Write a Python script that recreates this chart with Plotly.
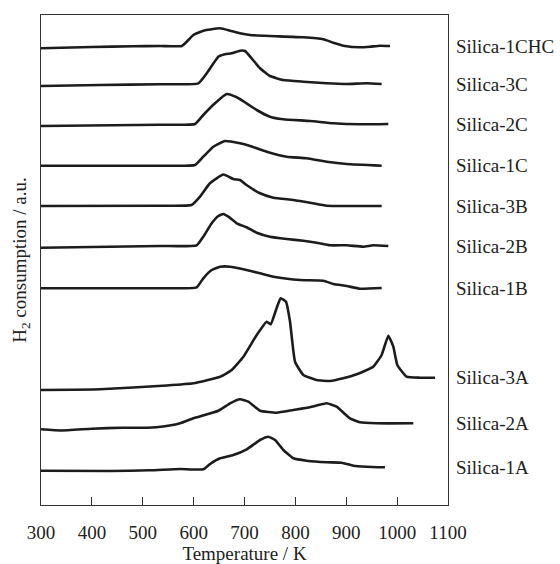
import plotly.graph_objects as go

# Stacked H2-TPR profiles (temperature in K, H2 consumption in offset arbitrary units)
names = ["Silica-1CHC", "Silica-3C", "Silica-2C", "Silica-1C", "Silica-3B",
         "Silica-2B", "Silica-1B", "Silica-3A", "Silica-2A", "Silica-1A"]

t_1chc = [300, 400, 480, 534, 576.6, 586.4, 599.5, 619, 652, 671.6, 691, 711, 750,
          815.7, 855, 874.6, 897.5, 927, 946.7, 966, 986]
h_1chc = [45.67, 45.8, 45.87, 45.9, 45.9, 46.33, 47.0, 47.43, 47.67, 47.43, 47.17, 47.0,
          46.9, 46.77, 46.57, 46.23, 45.9, 45.77, 45.83, 45.93, 45.9]

t_3c = [300, 416, 534, 609.3, 625.7, 648.6, 661.7, 674.8, 691.2, 701, 714, 730.5, 750,
        776, 815.7, 861.5, 900.8, 940, 969.6]
h_3c = [41.9, 42.0, 42.07, 42.17, 43.17, 44.83, 45.07, 45.17, 45.43, 45.4, 44.67, 43.67,
        42.9, 42.5, 42.33, 42.17, 42.1, 42.17, 42.1]

t_2c = [300, 534, 602.8, 619, 642, 665, 684.7, 704, 724, 750, 776, 828.8, 874.6, 927, 982.7]
h_2c = [37.9, 38.03, 38.1, 39.0, 40.17, 41.1, 40.77, 40.17, 39.5, 38.83, 38.57, 38.4,
        38.17, 38.07, 38.1]

t_1c = [300, 534, 602.8, 619, 638.8, 661.7, 691, 711, 743.6, 783, 822, 861.5, 900.8, 969.6]
h_1c = [33.93, 33.93, 34.0, 34.83, 35.83, 36.4, 36.17, 35.9, 35.33, 34.83, 34.67, 34.33,
        34.1, 33.93]

t_3b = [300, 534, 596, 612.6, 632, 658.5, 678, 691, 704, 730.5, 756.7, 796, 828.8,
        861.5, 900.8, 969.6]
h_3b = [29.9, 29.93, 30.0, 30.83, 32.17, 33.05, 32.6, 32.5, 32.0, 31.17, 30.73, 30.5,
        30.23, 29.93, 29.9, 29.9]

t_2b = [300, 534, 606, 619, 635.5, 648.6, 658.5, 668.3, 684.7, 704, 724, 750, 783, 815.7,
        841.9, 868, 900.8, 933.6, 953, 982.7]
h_2b = [25.73, 25.9, 25.97, 26.83, 28.17, 28.9, 29.1, 28.83, 28.17, 27.77, 27.23, 26.83,
        26.6, 26.43, 26.23, 25.97, 25.97, 25.83, 25.97, 25.9]

t_1b = [300, 534, 606, 619, 635.5, 652, 671.6, 697.8, 730.5, 763, 809, 855, 874.6, 900.8,
        927, 969.6]
h_1b = [21.67, 21.67, 21.77, 22.67, 23.5, 23.83, 23.83, 23.57, 23.17, 22.77, 22.5, 22.43,
        22.1, 21.9, 21.63, 21.7]

t_3a = [300, 416, 547, 599.5, 652, 674.8, 697.8, 724, 743.6, 751.5, 763, 771, 781.6, 789.5,
        799.3, 815.7, 841.9, 868, 894, 920.5, 953, 969.6, 982.7, 992.5, 1000.4, 1018.7,
        1044.9, 1074.4]
h_3a = [11.5, 11.57, 11.95, 12.17, 12.83, 13.5, 14.83, 17.0, 18.33, 18.07, 19.67, 20.67,
        20.33, 18.33, 14.33, 13.0, 12.5, 12.4, 12.67, 13.07, 13.83, 15.0, 16.93, 15.83,
        14.0, 12.83, 12.73, 12.73]

t_2a = [300, 340, 400, 460, 510, 540, 573.3, 599.5, 648.6, 671.6, 691.2, 707.6, 730.5, 763,
        796, 828.8, 861.5, 881, 907.4, 927, 959.8, 1031.8]
h_2a = [7.57, 7.45, 7.63, 7.73, 7.73, 7.85, 8.17, 8.67, 9.43, 10.17, 10.57, 10.33, 9.43,
        9.23, 9.5, 9.77, 10.17, 9.83, 8.67, 8.27, 8.17, 8.17]

t_1a = [300, 436, 514, 573.3, 619, 632.3, 652, 678, 704.3, 730.5, 746.9, 760, 776.4, 796,
        822, 861.5, 891, 914, 940, 976]
h_1a = [3.43, 3.4, 3.47, 3.6, 3.57, 4.1, 4.67, 5.0, 5.57, 6.5, 6.83, 6.5, 5.5, 4.67, 4.43,
        4.27, 4.23, 3.93, 3.83, 3.77]

temps = [t_1chc, t_3c, t_2c, t_1c, t_3b, t_2b, t_1b, t_3a, t_2a, t_1a]
signals = [h_1chc, h_3c, h_2c, h_1c, h_3b, h_2b, h_1b, h_3a, h_2a, h_1a]

x_ticks = [300, 400, 500, 600, 700, 800, 900, 1000, 1100]

FONT = "Liberation Serif, Times New Roman, serif"
INK = "#1c1c1c"
TEXT = "#222"

fig = go.Figure()
for name, t, h in zip(names, temps, signals):
    fig.add_trace(go.Scatter(
        x=t, y=h, mode="lines", name=name,
        line=dict(color=INK, width=2.6, shape="spline", smoothing=0.4),
        showlegend=False, hoverinfo="skip",
    ))
    # sample name placed to the right of the frame, level with the curve's tail
    fig.add_annotation(
        x=1.0, xref="paper", y=h[-1], yref="y",
        text=name, showarrow=False, xanchor="left", yanchor="middle",
        xshift=6, font=dict(family=FONT, size=19, color=TEXT),
    )

fig.update_layout(
    width=560, height=564,
    margin=dict(l=41, r=112, t=15, b=59),
    plot_bgcolor="white", paper_bgcolor="white",
    font=dict(family=FONT, size=19, color=TEXT),
    xaxis=dict(
        range=[300, 1100], tickvals=x_ticks, ticktext=[str(v) for v in x_ticks],
        ticks="inside", ticklen=8, tickwidth=1, tickcolor="#333",
        ticklabelstandoff=10, automargin=False,
        showline=True, linecolor="#333", linewidth=1.2, mirror=True,
        showgrid=False, zeroline=False,
        tickfont=dict(family=FONT, size=19, color=TEXT),
        title=dict(text="Temperature / K", standoff=0,
                   font=dict(family=FONT, size=19, color=TEXT)),
    ),
    yaxis=dict(
        range=[0, 49], showticklabels=False, ticks="", automargin=False,
        showline=True, linecolor="#333", linewidth=1.2, mirror=True,
        showgrid=False, zeroline=False,
        title=dict(text="H<sub>2</sub> consumption / a.u.", standoff=8,
                   font=dict(family=FONT, size=19, color=TEXT)),
    ),
)

fig.write_html("out.html")
